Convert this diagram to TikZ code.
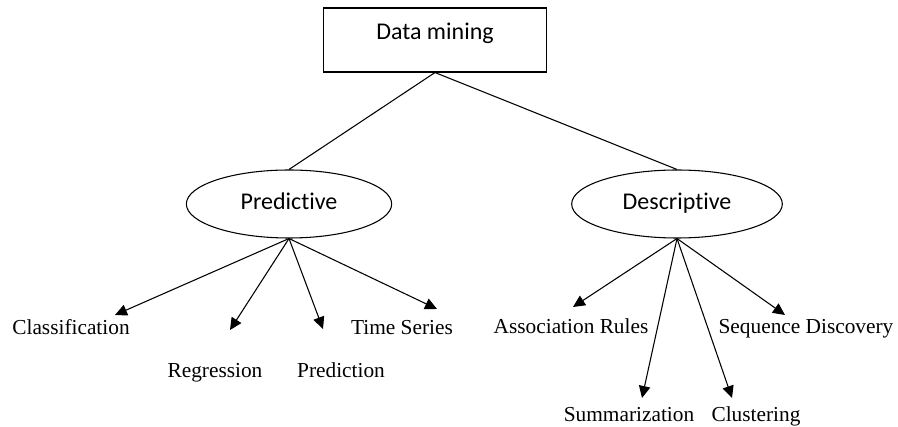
\documentclass[tikz,border=0pt]{standalone}
\usepackage{fontspec}
\setmainfont{Liberation Serif}
\newfontfamily\calibrifont[Ligatures=NoCommon]{Carlito}
\usepackage{tikz}
\usetikzlibrary{arrows.meta, shapes.geometric}

\begin{document}
\begin{tikzpicture}[
    x=0.75pt, y=-0.75pt,
    rect/.style={rectangle, draw=black, line width=0.8pt, minimum width=167pt, minimum height=48pt, text height=12pt, text depth=13pt, font=\calibrifont\fontsize{18}{20}\selectfont},
    ell/.style={ellipse, draw=black, line width=0.8pt, inner sep=0pt, minimum height=51pt, text height=12pt, text depth=3pt, font=\calibrifont\fontsize{18}{20}\selectfont},
    leaf/.style={anchor=base, inner sep=0pt, font=\fontsize{16}{18}\selectfont},
    link/.style={line width=0.8pt},
    arrow/.style={-{Triangle[length=9pt, width=8.5pt]}, line width=0.8pt}
]
    \useasboundingbox (0,0) rectangle (898,427);

    % Root
    \node[rect] (dm) at (435,40) {Data mining};

    % Two kinds
    \node[ell, minimum width=154pt] (pred) at (289,204) {Predictive};
    \node[ell, minimum width=158pt] (desc) at (677,204) {Descriptive};

    \draw[link] (dm.south) -- (pred.north);
    \draw[link] (dm.south) -- (desc.north);

    % Predictive tasks
    \node[leaf] (cls) at (71,334) {Classification};
    \node[leaf] (reg) at (215,377) {Regression};
    \node[leaf] (prd) at (341,377) {Prediction};
    \node[leaf] (ts) at (402,334) {Time Series};

    \coordinate (clsend) at (115,315);
    \coordinate (regend) at (230,330);
    \coordinate (prdend) at (323,329);
    \coordinate (tsend) at (437,309);

    \draw[arrow] (pred.south) -- (clsend);
    \draw[arrow] (pred.south) -- (regend);
    \draw[arrow] (pred.south) -- (prdend);
    \draw[arrow] (pred.south) -- (tsend);

    % Descriptive tasks
    \node[leaf] (ar) at (571,333) {Association Rules};
    \node[leaf] (sum) at (629,421) {Summarization};
    \node[leaf] (clu) at (756,421) {Clustering};
    \node[leaf] (sd) at (806,333) {Sequence Discovery};

    \coordinate (arend) at (573,307);
    \coordinate (sumend) at (642,398);
    \coordinate (cluend) at (732,398);
    \coordinate (sdend) at (785,315);

    \draw[arrow] (desc.south) -- (arend);
    \draw[arrow] (desc.south) -- (sumend);
    \draw[arrow] (desc.south) -- (cluend);
    \draw[arrow] (desc.south) -- (sdend);

\end{tikzpicture}
\end{document}
